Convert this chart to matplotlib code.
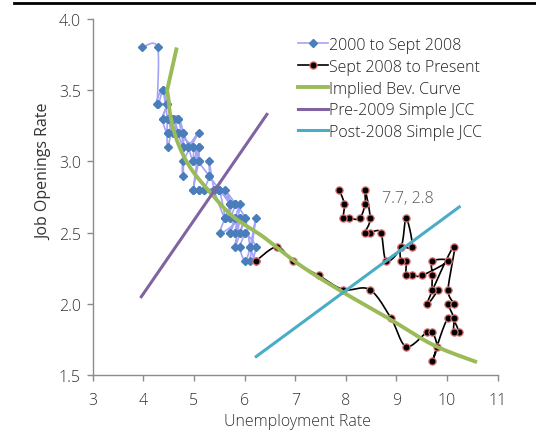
import numpy as np
import matplotlib
matplotlib.use("Agg")
from matplotlib import pyplot as plt
from matplotlib.lines import Line2D

plt.rcParams['font.family'] = ['Open Sans', 'DejaVu Sans']
plt.rcParams['font.weight'] = 'light'

# 2000 to Sept 2008 (unemployment rate, job openings rate)
pre_u = [3.97, 4.28, 4.28, 4.38, 4.46, 4.38, 4.59, 4.69, 4.99, 5.09, 5.30, 5.50, 5.71,
         5.71, 5.81, 5.61, 5.81, 5.71, 5.91, 5.81, 5.91, 5.81, 6.01, 5.91, 6.01,
         5.91, 6.01, 6.11, 6.22, 6.11, 6.22, 6.01, 5.91, 5.81, 5.71, 5.81, 5.71,
         5.61, 5.91, 5.52, 5.71, 5.61, 5.81, 5.50, 5.40, 5.61, 5.50, 5.40, 5.30,
         5.30, 5.19, 5.09, 4.99, 5.09, 5.09, 4.99, 4.99, 4.89, 5.09, 4.79, 4.79,
         4.79, 4.79, 4.69, 4.59, 4.48, 4.48, 4.59, 4.48, 4.38, 4.46, 4.26, 4.38,
         4.48, 4.59, 4.48, 4.69, 4.59, 4.69, 4.79, 4.69, 4.79, 4.89, 4.99, 5.09,
         4.99, 5.09, 5.19, 5.50, 5.71, 5.81, 6.01, 6.11, 6.22]
pre_v = [3.80, 3.80, 3.40, 3.50, 3.40, 3.30, 3.30, 3.20, 3.10, 3.00, 2.90, 2.80, 2.70,
         2.60, 2.70, 2.60, 2.60, 2.50, 2.70, 2.50, 2.60, 2.40, 2.60, 2.50, 2.50,
         2.40, 2.30, 2.40, 2.60, 2.30, 2.40, 2.50, 2.50, 2.50, 2.50, 2.60, 2.60,
         2.60, 2.60, 2.50, 2.70, 2.80, 2.70, 2.80, 2.80, 2.60, 2.80, 2.80, 3.00,
         2.90, 2.80, 2.80, 2.80, 3.00, 3.10, 3.00, 3.10, 3.10, 3.20, 3.00, 2.90,
         3.10, 3.20, 3.30, 3.20, 3.30, 3.10, 3.30, 3.20, 3.30, 3.40, 3.40, 3.50,
         3.30, 3.20, 3.20, 3.20, 3.30, 3.30, 3.10, 3.20, 3.20, 3.10, 3.00, 3.10,
         2.80, 2.80, 2.80, 2.80, 2.70, 2.70, 2.60, 2.40, 2.30]

# Sept 2008 to present
post_u = [6.22, 6.64, 6.95, 7.46, 7.95, 8.47, 8.89, 9.19, 9.60, 9.71, 9.80, 9.71,
          10.02, 10.24, 10.13, 10.13, 10.02, 10.13, 10.02, 10.13, 9.60, 9.82, 9.71,
          9.71, 9.71, 10.02, 9.51, 9.31, 9.19, 9.19, 9.09, 9.09, 9.31, 9.19, 9.09,
          8.80, 8.69, 8.48, 8.38, 8.48, 8.38, 8.38, 8.27, 8.07, 7.95, 7.97, 7.87]
post_v = [2.30, 2.40, 2.30, 2.20, 2.10, 2.10, 1.90, 1.70, 1.80, 1.80, 1.70, 1.60,
          1.90, 1.80, 1.80, 1.90, 2.00, 2.00, 2.10, 2.40, 2.00, 2.10, 2.10,
          2.20, 2.30, 2.30, 2.20, 2.20, 2.20, 2.30, 2.30, 2.40, 2.40, 2.60, 2.40,
          2.30, 2.50, 2.50, 2.50, 2.60, 2.80, 2.70, 2.60, 2.60, 2.60, 2.70, 2.80]

# implied Beveridge curve
bev_u = [4.66, 4.47, 4.50, 4.53, 4.66, 4.92, 5.35, 5.78, 6.37, 7.10, 7.95, 8.88, 9.73, 10.59]
bev_v = [3.80, 3.50, 3.43, 3.33, 3.15, 2.96, 2.77, 2.61, 2.47, 2.27, 2.08, 1.89, 1.71, 1.59]

# simple job creation curves
jcc_pre_u = [3.96, 6.44]
jcc_pre_v = [2.05, 3.33]
jcc_post_u = [6.23, 10.24]
jcc_post_v = [1.63, 2.68]


def smooth(x, y, n=16):
    # excel style smoothed line (bezier through the points)
    p = np.column_stack([x, y]).astype(float)
    out = [p[0]]
    t = np.linspace(0, 1, n)[1:, None]
    for i in range(len(p) - 1):
        p0 = p[i - 1] if i > 0 else p[i]
        p3 = p[i + 2] if i + 2 < len(p) else p[i + 1]
        c1 = p[i] + (p[i + 1] - p0) / 6
        c2 = p[i + 1] - (p3 - p[i]) / 6
        seg = (1 - t) ** 3 * p[i] + 3 * (1 - t) ** 2 * t * c1 + 3 * (1 - t) * t ** 2 * c2 + t ** 3 * p[i + 1]
        out.extend(seg)
    return np.array(out)


fig = plt.figure(figsize=(5.36, 4.31), dpi=100)
ax = fig.add_axes([0.173, 0.1276, 0.7556, 0.826])

txt = '#333333'
blue_line = '#a4a4f6'
blue_mk = '#4a7ebb'
s = smooth(pre_u, pre_v)
ax.plot(s[:, 0], s[:, 1], color=blue_line, lw=1.2, zorder=2)
ax.plot(pre_u, pre_v, 'D', color=blue_mk, ms=4.4, mec=blue_mk, zorder=3)

s = smooth(post_u, post_v)
ax.plot(s[:, 0], s[:, 1], color='black', lw=1.2, zorder=4)
ax.plot(post_u, post_v, 'o', color='black', ms=5.2, mec='#e07070', mew=0.9, zorder=5)

# the top piece of the implied curve is a straight run, the rest is smoothed
s = smooth(bev_u[1:], bev_v[1:])
ax.plot([bev_u[0]] + list(s[:, 0]), [bev_v[0]] + list(s[:, 1]), color='#9bbb59', lw=2.8,
        zorder=6, solid_capstyle='butt', solid_joinstyle='miter')
ax.plot(jcc_pre_u, jcc_pre_v, color='#8064a2', lw=2.2, zorder=7)
ax.plot(jcc_post_u, jcc_post_v, color='#4bacc6', lw=2.2, zorder=8)

ax.text(8.72, 2.74, '7.7, 2.8', fontsize=11.5, color='#595959', ha='left', va='center')

ax.set_xlim(3, 11)
ax.set_ylim(1.5, 4.0)
ax.set_xticks(range(3, 12))
ax.set_yticks(np.arange(1.5, 4.01, 0.5))
ax.set_yticklabels(['1.5', '2.0', '2.5', '3.0', '3.5', '4.0'])
for sp in ['top', 'right']:
    ax.spines[sp].set_visible(False)
for sp in ['left', 'bottom']:
    ax.spines[sp].set_color('#8c8c8c')
    ax.spines[sp].set_linewidth(1.0)
ax.tick_params(direction='out', length=4.5, width=1.0, color='#8c8c8c',
               labelsize=11.5, labelcolor=txt)
ax.tick_params(axis='x', pad=7.5)
ax.tick_params(axis='y', pad=4)
ax.set_ylabel('Job Openings Rate', fontsize=11.5, color=txt)
ax.yaxis.set_label_coords(-0.1, 0.575)
fig.text(297 / 536, 4.5 / 431, 'Unemployment Rate', fontsize=11.5, color=txt,
         ha='center', va='baseline')

handles = [
    Line2D([], [], color=blue_line, lw=1.2, marker='D', ms=4.4, mfc=blue_mk, mec=blue_mk),
    Line2D([], [], color='black', lw=1.2, marker='o', ms=5.2, mfc='black', mec='#e07070', mew=0.9),
    Line2D([], [], color='#9bbb59', lw=2.8),
    Line2D([], [], color='#8064a2', lw=2.2),
    Line2D([], [], color='#4bacc6', lw=2.2),
]
labels = ['2000 to Sept 2008', 'Sept 2008 to Present', 'Implied Bev. Curve',
          'Pre-2009 Simple JCC', 'Post-2008 Simple JCC']
leg = fig.legend(handles, labels, loc='upper left', bbox_to_anchor=(298 / 536, 1 - 38 / 431),
                 frameon=False, fontsize=11.5, handlelength=1.85, handletextpad=0.1,
                 labelspacing=0.36, borderpad=0, borderaxespad=0)
for t in leg.get_texts():
    t.set_color('#222222')

# black rule across the top
fig.add_artist(Line2D([14 / 536, 1], [1 - 4 / 431, 1 - 4 / 431], color='black', lw=2.0))

fig.savefig('out.png', dpi=100)
